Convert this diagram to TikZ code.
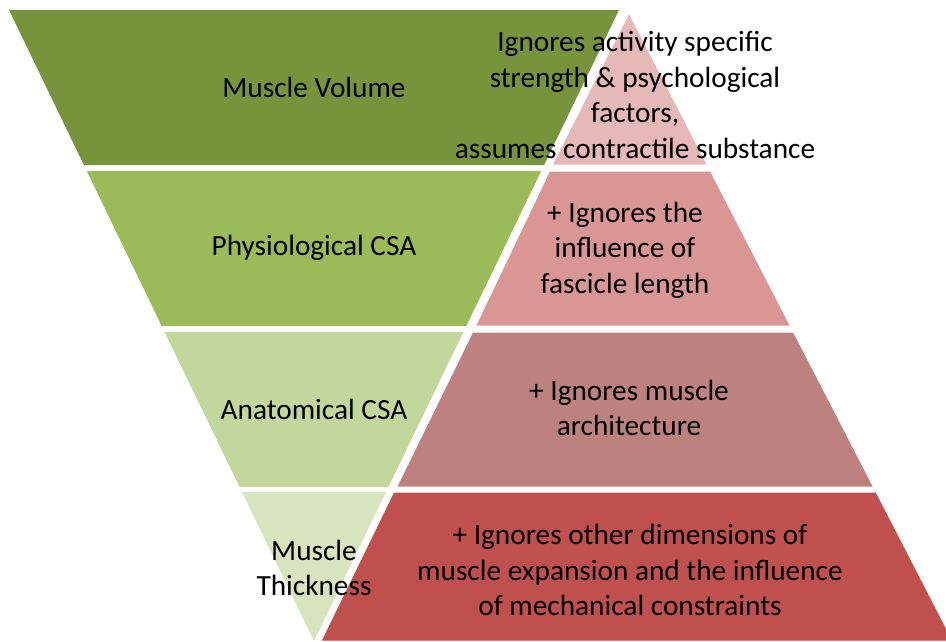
\documentclass[tikz,border=0pt]{standalone}
\usepackage{fontspec}
\setmainfont{Carlito}
\usepackage{xcolor}

\definecolor{volgreen}{HTML}{77933C}
\definecolor{pcsagreen}{HTML}{9BBB59}
\definecolor{acsagreen}{HTML}{C3D69B}
\definecolor{thickgreen}{HTML}{D7E4BD}
\definecolor{limredA}{HTML}{E6B9B8}
\definecolor{limredB}{HTML}{D99694}
\definecolor{limredC}{HTML}{BD8280}
\definecolor{limredD}{HTML}{C0504D}

\begin{document}
\begin{tikzpicture}[x=1pt,y=-1pt,
    label/.style={align=center, font=\fontsize{29.3}{35.4}\selectfont, inner sep=0pt},
    redband/.style={draw=white, line width=1pt, line join=miter}]
            \useasboundingbox (0,0) rectangle (946,641);
            \clip (0,0) rectangle (946,641);

            % Green inverted pyramid
            \fill[volgreen] (9,10) -- (619,10) -- (544.1,165) -- (83.9,165) -- cycle;
            \fill[pcsagreen] (86.8,171) -- (541.2,171) -- (466.3,326) -- (161.7,326) -- cycle;
            \fill[acsagreen] (164.6,332) -- (463.4,332) -- (388.4,487) -- (239.6,487) -- cycle;
            \fill[thickgreen] (242,492) -- (386,492) -- (314,641) -- cycle;

            % Red pyramid
            \filldraw[redband, fill=limredA] (629,13) -- (707.4,165) -- (552,165) -- cycle;
            \filldraw[redband, fill=limredB] (549.5,171) -- (710.5,171) -- (790.5,326) -- (475.5,326) -- cycle;
            \filldraw[redband, fill=limredC] (472.6,332) -- (793.6,332) -- (873.6,487) -- (396.6,487) -- cycle;
            \filldraw[redband, fill=limredD] (393.6,492) -- (876.2,492) -- (953,641) -- (321,641) -- cycle;

            % Measures
            \node[label] (vol) at (314,87) {Muscle Volume};
            \node[label] (pcsa) at (314,248) {Physiological CSA};
            \node[label] (acsa) at (314,409) {Anatomical CSA};
            \node[label] (thick) at (314,568) {Muscle\\Thickness};

            % Limitations
            \node[label] (limA) at (635,95) {Ignores activity specific\\strength \& psychological\\factors,\\assumes contractile substance};
            \node[label] (limB) at (625,250) {+ Ignores the\\influence of\\fascicle length};
            \node[label] (limC) at (629,408) {+ Ignores muscle\\architecture};
            \node[label] (limD) at (630,570) {+ Ignores other dimensions of\\muscle expansion and the influence\\of mechanical constraints};
        \end{tikzpicture}
\end{document}
